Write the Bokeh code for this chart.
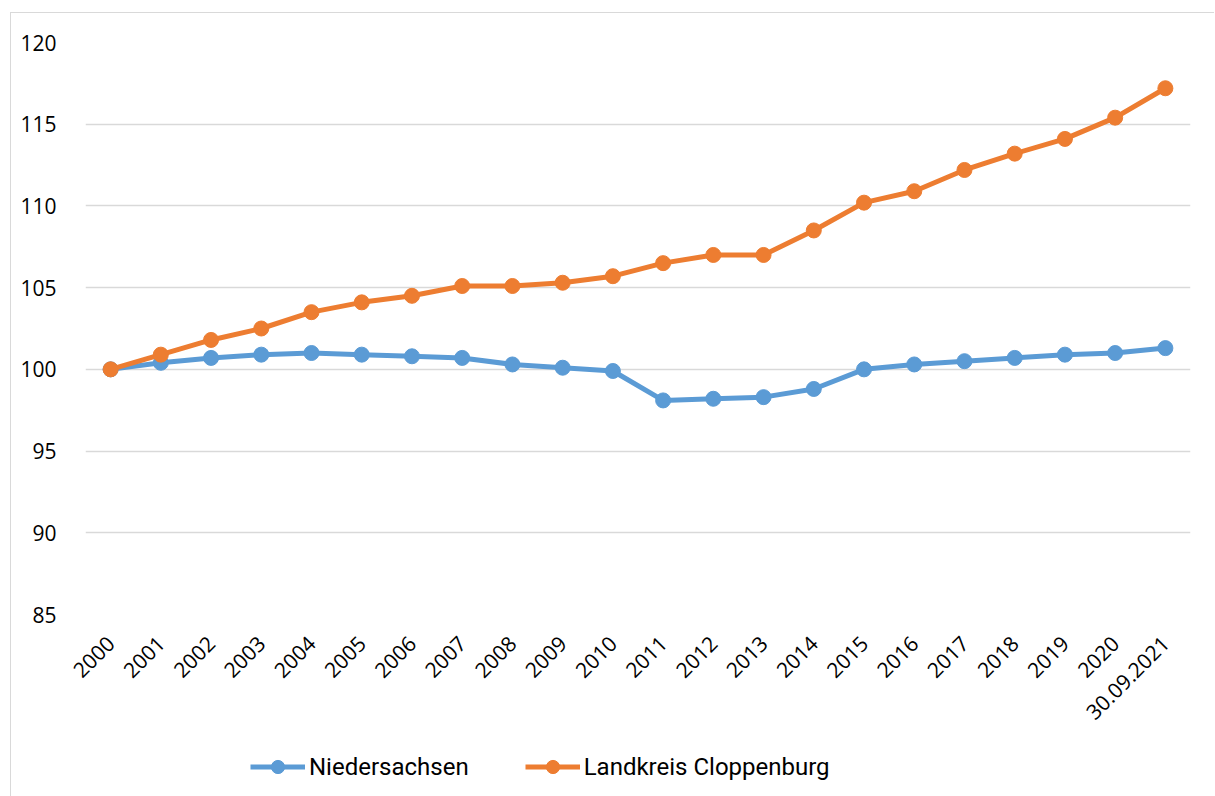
import math
from bokeh.plotting import figure
from bokeh.layouts import column
from bokeh.models import FactorRange, Range1d, Legend, LegendItem, FixedTicker
from bokeh.embed import file_html
from bokeh.resources import INLINE

categories = ["2000", "2001", "2002", "2003", "2004", "2005", "2006", "2007", "2008", "2009",
              "2010", "2011", "2012", "2013", "2014", "2015", "2016", "2017", "2018", "2019",
              "2020", "30.09.2021"]
niedersachsen = [100.0, 100.4, 100.7, 100.9, 101.0, 100.9, 100.8, 100.7, 100.3, 100.1,
                 99.9, 98.1, 98.2, 98.3, 98.8, 100.0, 100.3, 100.5, 100.7, 100.9,
                 101.0, 101.3]
cloppenburg = [100.0, 100.9, 101.8, 102.5, 103.5, 104.1, 104.5, 105.1, 105.1, 105.3,
               105.7, 106.5, 107.0, 107.0, 108.5, 110.2, 110.9, 112.2, 113.2, 114.1,
               115.4, 117.2]
series_names = ["Niedersachsen", "Landkreis Cloppenburg"]
y_ticks = [85, 90, 95, 100, 105, 110, 115, 120]

BLUE = "#5B9BD5"
ORANGE = "#ED7D31"
FONT = "Open Sans"
GRID = "#d9d9d9"
LW = 5
MS = 15

xr = FactorRange(*categories, range_padding=0)
p = figure(x_range=xr, y_range=Range1d(85, 120),
           width=1203, height=717,
           output_backend="svg", toolbar_location=None,
           min_border_left=74, min_border_top=29, min_border_right=24, min_border_bottom=116)
p.outline_line_color = None
p.background_fill_color = "white"
p.border_fill_color = "white"

p.xgrid.grid_line_color = None
p.ygrid.grid_line_color = GRID
p.ygrid.grid_line_width = 1.5
p.yaxis.ticker = FixedTicker(ticks=y_ticks)
for ax in (p.xaxis, p.yaxis):
    ax.axis_line_color = None
    ax.major_tick_line_color = None
    ax.minor_tick_line_color = None
    ax.major_label_text_font = FONT
    ax.major_label_text_font_size = "21px"
    ax.major_label_text_color = "#000000"
p.yaxis.major_label_standoff = 23
p.xaxis.major_label_orientation = math.pi / 4
p.xaxis.major_label_standoff = 19

for vals, col in zip([niedersachsen, cloppenburg], [BLUE, ORANGE]):
    p.line(categories, vals, line_color=col, line_width=LW)
    p.scatter(categories, vals, size=MS, fill_color=col, line_color=col)

# legend strip below the chart (same series, drawn outside its visible y-range)
lg = figure(width=1203, height=66, x_range=xr, y_range=Range1d(0, 1),
            output_backend="svg", toolbar_location=None,
            min_border_left=74, min_border_right=24, min_border_top=0, min_border_bottom=0)
lg.axis.visible = False
lg.grid.visible = False
lg.outline_line_color = None
lg.background_fill_color = "white"
lg.border_fill_color = "white"
items = []
for name, vals, col in zip(series_names, [niedersachsen, cloppenburg], [BLUE, ORANGE]):
    r1 = lg.line(categories, vals, line_color=col, line_width=LW)
    r2 = lg.scatter(categories, vals, size=MS, fill_color=col, line_color=col)
    items.append(LegendItem(label=name, renderers=[r1, r2]))
legend = Legend(items=items, orientation="horizontal", location=(165, 13),
                border_line_color=None, background_fill_alpha=0,
                label_text_font="Roboto", label_text_font_size="24px",
                label_text_color="#000000",
                glyph_width=55, glyph_height=33, spacing=56, padding=0, margin=0,
                label_standoff=4)
lg.add_layout(legend, "center")

layout = column(p, lg, spacing=0)
layout.styles = {"margin-left": "10px", "margin-top": "12px",
                 "border-left": "1px solid " + GRID, "border-top": "1px solid " + GRID}

open("out.html", "w").write(file_html(layout, INLINE))
